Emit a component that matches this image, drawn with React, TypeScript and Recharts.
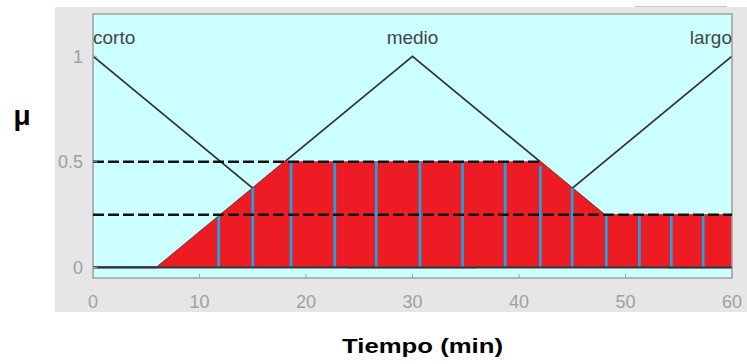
import {
  ComposedChart, Area, XAxis, YAxis, CartesianGrid,
  ReferenceLine, ReferenceArea, ReferenceDot,
} from 'recharts';

// eje x: tiempo (min), eje y: grado de pertenencia
const tiempoTicks = [0, 10, 20, 30, 40, 50, 60];
const muTicks = [0, 0.5, 1];

// funciones de pertenencia (triangulares)
const cortoT = [0, 24, 60];
const cortoMu = [1, 0, 0];
const medioT = [0, 6, 30, 54, 60];
const medioMu = [0, 0, 1, 0, 0];
const largoT = [0, 36, 60];
const largoMu = [0, 0, 1];

// salida agregada (recortada)
const salidaT = [6, 18, 42, 48, 60];
const salidaMu = [0, 0.5, 0.5, 0.25, 0.25];

// muestras verticales
const muestrasT = [11.8, 15, 18.6, 22.7, 26.6, 30.7, 34.7, 38.7, 42, 45, 48.2, 51.3, 54.3, 57.3];
const muestrasMu = [0.25, 0.375, 0.5, 0.5, 0.5, 0.5, 0.5, 0.5, 0.48, 0.375, 0.25, 0.25, 0.25, 0.25];

// niveles de corte
const corteMu = [0.5, 0.25];
const corteHasta = [42, 60];

const etiquetas = ['corto', 'medio', 'largo'];
const picosT = [0, 30, 60];
const anclas: Array<'start' | 'middle' | 'end'> = ['start', 'middle', 'end'];

const rows = (t: number[], mu: number[]) => t.map((v, i) => ({ t: v, mu: mu[i] }));

const FONT = '"Liberation Sans", Arial, Helvetica, sans-serif';
const GRIS = '#a3a3a3';

function etiqueta(texto: string, anchor: 'start' | 'middle' | 'end') {
  return ({ viewBox }: any) => (
    <text x={viewBox.x} y={viewBox.y - 12} textAnchor={anchor} fontSize={19} fill="#444" fontFamily={FONT}>
      {texto}
    </text>
  );
}

export default function App() {
  return (
    <div style={{ position: 'absolute', left: 0, top: 0, width: 747, height: 364, background: '#fff' }}>
      <div style={{ position: 'absolute', left: 55, top: 7, width: 692, height: 305, background: '#e6e6e6' }} />
      <div style={{ position: 'absolute', left: 635, top: 0, width: 92, height: 6, background: '#fafafa', borderBottom: '1px solid #c8c8c8' }} />
      <div style={{ position: 'absolute', left: 0, top: 0 }}>
        <ComposedChart width={747} height={364} margin={{ top: 14, right: 15, bottom: 0, left: 0 }}>
          <CartesianGrid fill="#ccffff" horizontal={false} vertical={false} />
          <XAxis
            dataKey="t" type="number" domain={[0, 60]} ticks={tiempoTicks} height={86}
            axisLine={false} tickSize={-4} tickMargin={21}
            tickLine={{ stroke: GRIS }} tick={{ fill: '#a0a0a0', fontSize: 18, fontFamily: FONT }}
            allowDataOverflow
            label={{
              content: ({ viewBox }: any) => (
                <text x={viewBox.x + viewBox.width / 2 + 10} y={viewBox.y + 75} textAnchor="middle"
                  fontSize={21} fontWeight="bold" fill="#000" fontFamily={FONT}
                  textLength={161} lengthAdjust="spacingAndGlyphs">
                  Tiempo (min)
                </text>
              ),
            }}
          />
          <XAxis xAxisId="top" orientation="top" dataKey="t" type="number" domain={[0, 60]} ticks={tiempoTicks}
            height={0} axisLine={false} tickSize={-4} tickLine={{ stroke: GRIS }} tick={false} />
          <YAxis
            type="number" domain={[-0.05, 1.2]} ticks={muTicks} width={93}
            axisLine={false} tickSize={-4} tickMargin={14}
            tickLine={{ stroke: GRIS }} tick={{ fill: '#a0a0a0', fontSize: 18, fontFamily: FONT }}
            allowDataOverflow
            label={{
              content: ({ viewBox }: any) => (
                <text x={viewBox.x + 22} y={viewBox.y + 111} textAnchor="middle"
                  fontSize={28} fontWeight="bold" fill="#000" fontFamily={FONT}>
                  μ
                </text>
              ),
            }}
          />
          <YAxis yAxisId="right" orientation="right" type="number" domain={[-0.05, 1.2]} ticks={muTicks}
            width={0} axisLine={false} tickSize={-4} tickLine={{ stroke: GRIS }} tick={false} />

          {/* funciones de pertenencia como áreas sin relleno para que la salida roja las tape */}
          <Area data={rows(cortoT, cortoMu)} dataKey="mu" type="linear" baseValue={0} fill="none" fillOpacity={0}
            stroke="#333" strokeWidth={1.7} dot={false} activeDot={false} isAnimationActive={false} />
          <Area data={rows(medioT, medioMu)} dataKey="mu" type="linear" baseValue={0} fill="none" fillOpacity={0}
            stroke="#333" strokeWidth={1.7} dot={false} activeDot={false} isAnimationActive={false} />
          <Area data={rows(largoT, largoMu)} dataKey="mu" type="linear" baseValue={0} fill="none" fillOpacity={0}
            stroke="#333" strokeWidth={1.7} dot={false} activeDot={false} isAnimationActive={false} />

          <Area data={rows(salidaT, salidaMu)} dataKey="mu" type="linear" baseValue={0}
            fill="#ed1c24" fillOpacity={1} stroke="#ed1c24" strokeWidth={1} activeDot={false} isAnimationActive={false} />

          {muestrasT.map((t, i) => (
            <ReferenceLine key={'m' + i} segment={[{ x: t, y: 0 }, { x: t, y: muestrasMu[i] }]}
              stroke="#16a6e6" strokeWidth={2.7} />
          ))}

          <ReferenceLine y={0} stroke="#333" strokeWidth={1.7} />

          {corteMu.map((mu, i) => (
            <ReferenceLine key={'c' + i} segment={[{ x: 0, y: mu }, { x: corteHasta[i], y: mu }]}
              stroke="#111" strokeWidth={2.5} strokeDasharray="11 4" />
          ))}

          {etiquetas.map((txt, i) => (
            <ReferenceDot key={txt} x={picosT[i]} y={1} r={0} ifOverflow="visible"
              fill="none" stroke="none" label={{ content: etiqueta(txt, anclas[i]) }} />
          ))}

          <ReferenceArea x1={0} x2={60} y1={-0.05} y2={1.2} fill="none" stroke={GRIS} strokeWidth={1.6} ifOverflow="visible" />
        </ComposedChart>
      </div>
    </div>
  );
}
